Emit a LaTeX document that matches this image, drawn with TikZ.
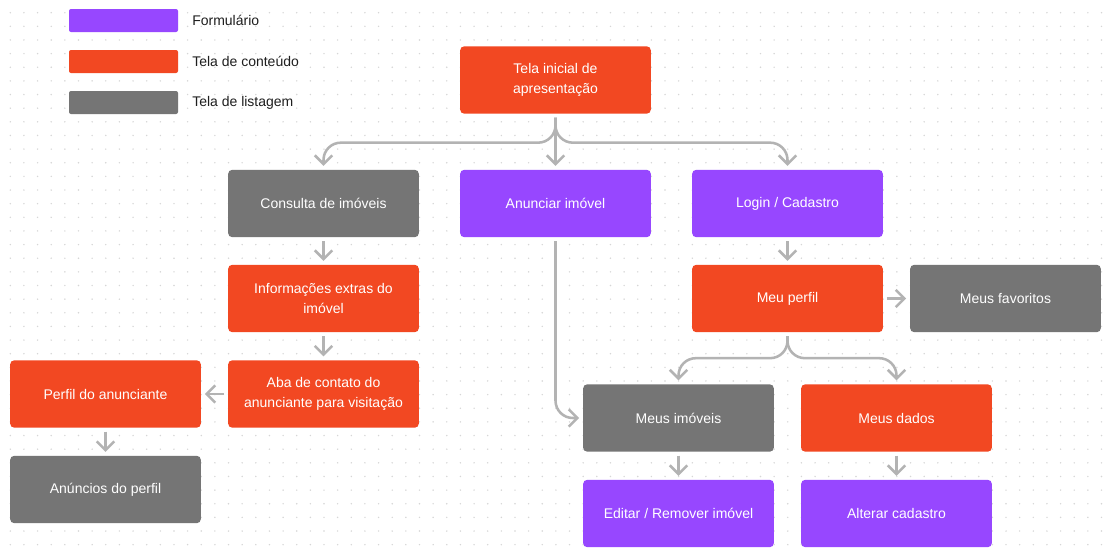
\documentclass[tikz,border=0pt]{standalone}
\usepackage{fontspec}
\setmainfont{Liberation Sans}
\usepackage{xcolor}
\usetikzlibrary{arrows.meta,positioning}
\definecolor{formpurple}{HTML}{9747FF}
\definecolor{contred}{HTML}{F24822}
\definecolor{listgray}{HTML}{757575}
\definecolor{linegray}{HTML}{B3B3B3}
\definecolor{dotgray}{HTML}{D6D6D6}
\definecolor{labeltext}{HTML}{1E1E1E}

\begin{document}
\begin{tikzpicture}[
    x=0.75pt, y=-0.75pt,
    screen/.style={rectangle, rounded corners=3pt, minimum width=143pt, minimum height=50.5pt,
                   align=center, text=white, font=\fontsize{10.5}{15}\selectfont,
                   inner sep=2pt, outer sep=3pt},
    form/.style={screen, fill=formpurple},
    content/.style={screen, fill=contred},
    listing/.style={screen, fill=listgray},
    legendbox/.style={rectangle, rounded corners=1.5pt, minimum width=81.75pt, minimum height=17.25pt, inner sep=0pt},
    legendlabel/.style={anchor=west, text=labeltext, font=\fontsize{10.5}{13}\selectfont, inner sep=0pt},
    arr/.style={-{Straight Barb[length=6.5pt, width=13pt]}, line width=1.9pt, draw=linegray, rounded corners=13pt},
]
\useasboundingbox[fill=white] (0,0) rectangle (1107,553);
% dot grid
\foreach \i in {0,...,80}
  \foreach \j in {0,...,39}
    \fill[dotgray] (10.3+13.64*\i, 12.7+13.64*\j) circle (0.6pt);

% legend
\node[legendbox, fill=formpurple] (lgform) at (123.5,20.5) {};
\node[legendbox, fill=contred] (lgcont) at (123.5,61.5) {};
\node[legendbox, fill=listgray] (lglist) at (123.5,102.5) {};
\node[legendlabel] (lbform) at (192,20.5) {Formulário};
\node[legendlabel] (lbcont) at (192,61.5) {Tela de conteúdo};
\node[legendlabel] (lblist) at (192,102.5) {Tela de listagem};

% screens
\node[content] (ini) at (555.5,80) {Tela inicial de\\apresentação};
\node[listing] (cons) at (323.5,203.5) {Consulta de imóveis};
\node[form] (anun) at (555.5,203.5) {Anunciar imóvel};
\node[form] (login) at (787.5,203.5) {Login / Cadastro};
\node[content] (info) at (323.5,298.5) {Informações extras do\\imóvel};
\node[content] (perfil) at (787.5,298.5) {Meu perfil};
\node[listing] (fav) at (1005.5,298.5) {Meus favoritos};
\node[content] (aba) at (323.5,394) {Aba de contato do\\anunciante para visitação};
\node[content] (anunc) at (105.5,394) {Perfil do anunciante};
\node[listing] (anuncios) at (105.5,489.5) {Anúncios do perfil};
\node[listing] (mimov) at (678.5,418) {Meus imóveis};
\node[content] (mdados) at (896.5,418) {Meus dados};
\node[form] (editar) at (678.5,513.5) {Editar / Remover imóvel};
\node[form] (alterar) at (896.5,513.5) {Alterar cadastro};

% connectors
\draw[arr] (ini.south) -- ++(0,25) -| (cons.north);
\draw[arr] (ini.south) -- (anun.north);
\draw[arr] (ini.south) -- ++(0,25) -| (login.north);
\draw[arr] (cons) -- (info);
\draw[arr] (info) -- (aba);
\draw[arr] (aba) -- (anunc);
\draw[arr] (anunc) -- (anuncios);
\draw[arr] (login) -- (perfil);
\draw[arr] (perfil) -- (fav);
\draw[arr] (anun.south) |- (mimov.west);
\draw[arr] (perfil.south) -- ++(0,22) -| (mimov.north);
\draw[arr] (perfil.south) -- ++(0,22) -| (mdados.north);
\draw[arr] (mimov) -- (editar);
\draw[arr] (mdados) -- (alterar);
\end{tikzpicture}
\end{document}
